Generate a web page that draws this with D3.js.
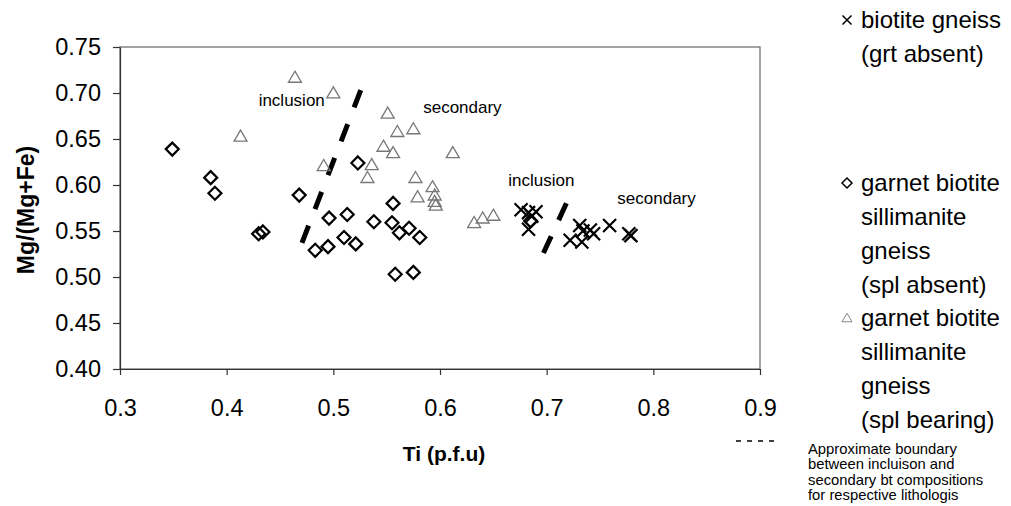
<!DOCTYPE html>
<html>
<head>
<meta charset="utf-8">
<script src="https://cdn.jsdelivr.net/npm/d3@7"></script>
<style>
  body { margin: 0; background: #fff; }
  svg { font-family: "Liberation Sans", Arial, sans-serif; }
</style>
</head>
<body>
<svg width="1011" height="506"></svg>
<script>
// data: Ti (p.f.u) vs Mg/(Mg+Fe)
var biotiteTi = [0.676, 0.683, 0.690, 0.683, 0.686, 0.722, 0.731, 0.734, 0.733, 0.741, 0.744, 0.759, 0.777, 0.779];
var biotiteMg = [0.573, 0.570, 0.571, 0.552, 0.566, 0.540, 0.556, 0.550, 0.538, 0.551, 0.547, 0.556, 0.547, 0.545];

var splAbsentTi = [0.349, 0.385, 0.389, 0.430, 0.434, 0.468, 0.483, 0.495, 0.496, 0.510, 0.513, 0.521, 0.523, 0.538, 0.555, 0.556, 0.558, 0.562, 0.571, 0.575, 0.581, 0.685];
var splAbsentMg = [0.639, 0.608, 0.591, 0.547, 0.549, 0.589, 0.529, 0.533, 0.564, 0.543, 0.568, 0.536, 0.624, 0.560, 0.559, 0.580, 0.503, 0.548, 0.553, 0.505, 0.543, 0.561];

var splBearingTi = [0.413, 0.464, 0.491, 0.500, 0.532, 0.536, 0.547, 0.551, 0.556, 0.560, 0.575, 0.577, 0.579, 0.593, 0.595, 0.595, 0.596, 0.612, 0.632, 0.640, 0.650];
var splBearingMg = [0.653, 0.717, 0.621, 0.700, 0.608, 0.622, 0.642, 0.678, 0.635, 0.658, 0.661, 0.608, 0.587, 0.598, 0.589, 0.582, 0.578, 0.635, 0.559, 0.564, 0.567];

// approximate inclusion / secondary boundaries
var boundaryA = [[0.4706, 0.537], [0.526, 0.704]];
var boundaryB = [[0.697, 0.526], [0.720, 0.584]];

var annoText = ['inclusion', 'secondary', 'inclusion', 'secondary'];
var annoTi = [0.461, 0.621, 0.695, 0.803];
var annoMg = [0.686, 0.678, 0.599, 0.579];

var xTicks = [0.3, 0.4, 0.5, 0.6, 0.7, 0.8, 0.9];
var yTicks = [0.40, 0.45, 0.50, 0.55, 0.60, 0.65, 0.70, 0.75];

var legendLines = [
    ['biotite gneiss', '(grt absent)'],
    ['garnet biotite', 'sillimanite', 'gneiss', '(spl absent)'],
    ['garnet biotite', 'sillimanite', 'gneiss', '(spl bearing)']
];
var noteLines = ['Approximate boundary', 'between  incluison and', 'secondary bt compositions', 'for respective lithologis'];

var svg = d3.select('svg');
var plot = {l: 120, r: 760, t: 47, b: 369};

var xScale = d3.scaleLinear().domain([0.3, 0.9]).range([plot.l, plot.r]);
var yScale = d3.scaleLinear().domain([0.40, 0.75]).range([plot.b, plot.t]);

function zip(a, b) { return a.map(function(v, i) { return [v, b[i]]; }); }

// marker shapes, excel style
function diamond(r) {
    var p = d3.path();
    p.moveTo(0, -r); p.lineTo(r, 0); p.lineTo(0, r); p.lineTo(-r, 0); p.closePath();
    return p.toString();
}
function triangle(r) {
    var p = d3.path();
    p.moveTo(0, -r * 0.95); p.lineTo(r, r * 0.75); p.lineTo(-r, r * 0.75); p.closePath();
    return p.toString();
}
function cross(r) {
    var p = d3.path();
    p.moveTo(-r, -r); p.lineTo(r, r); p.moveTo(r, -r); p.lineTo(-r, r);
    return p.toString();
}

// plot frame
svg.append('rect')
    .attr('x', plot.l).attr('y', plot.t)
    .attr('width', plot.r - plot.l).attr('height', plot.b - plot.t)
    .attr('fill', 'none').attr('stroke', '#666').attr('stroke-width', 1.2);

var xAxis = d3.axisBottom(xScale).tickValues(xTicks).tickSize(6).tickSizeOuter(0)
    .tickFormat(d3.format('.1f'));
var yAxis = d3.axisLeft(yScale).tickValues(yTicks).tickSize(7).tickSizeOuter(0)
    .tickFormat(d3.format('.2f'));

var gx = svg.append('g').attr('transform', 'translate(0,' + plot.b + ')').call(xAxis);
var gy = svg.append('g').attr('transform', 'translate(' + plot.l + ',0)').call(yAxis);
[gx, gy].forEach(function(g) {
    g.select('.domain').attr('stroke', '#333').attr('stroke-width', 1.2);
    g.selectAll('.tick line').attr('stroke', '#333').attr('stroke-width', 1.2);
    g.selectAll('.tick text').attr('fill', '#000').style('font-size', '23.5px')
        .style('font-family', '"Liberation Sans", Arial, sans-serif');
});
gx.selectAll('.tick text').attr('y', 47).attr('dy', 0);
gy.selectAll('.tick text').attr('x', -19);

// axis titles
svg.append('text')
    .attr('x', (plot.l + plot.r) / 2 + 4).attr('y', 461)
    .attr('text-anchor', 'middle')
    .style('font-size', '21px').style('font-weight', 'bold')
    .text('Ti (p.f.u)');
svg.append('text')
    .attr('transform', 'translate(34,' + 210 + ') rotate(-90)')
    .attr('text-anchor', 'middle')
    .style('font-size', '23px').style('font-weight', 'bold')
    .text('Mg/(Mg+Fe)');

// boundary lines
var line = d3.line()
    .x(function(d) { return xScale(d[0]); })
    .y(function(d) { return yScale(d[1]); });
[boundaryA, boundaryB].forEach(function(b) {
    svg.append('path')
        .attr('d', line(b))
        .attr('fill', 'none').attr('stroke', '#000')
        .attr('stroke-width', 5).attr('stroke-dasharray', '18.5,17.8');
});

// points
svg.selectAll('.tri')
    .data(zip(splBearingTi, splBearingMg))
    .enter().append('path')
    .attr('class', 'tri')
    .attr('transform', function(d) { return 'translate(' + [xScale(d[0]), yScale(d[1])] + ')'; })
    .attr('d', triangle(6.5))
    .attr('fill', 'none').attr('stroke', '#777').attr('stroke-width', 1.3);

svg.selectAll('.dia')
    .data(zip(splAbsentTi, splAbsentMg))
    .enter().append('path')
    .attr('class', 'dia')
    .attr('transform', function(d) { return 'translate(' + [xScale(d[0]), yScale(d[1])] + ')'; })
    .attr('d', diamond(6.5))
    .attr('fill', 'none').attr('stroke', '#000').attr('stroke-width', 2.2);

svg.selectAll('.crs')
    .data(zip(biotiteTi, biotiteMg))
    .enter().append('path')
    .attr('class', 'crs')
    .attr('transform', function(d) { return 'translate(' + [xScale(d[0]), yScale(d[1])] + ')'; })
    .attr('d', cross(6.5))
    .attr('fill', 'none').attr('stroke', '#000').attr('stroke-width', 2.2);

// annotations
svg.selectAll('.anno')
    .data(annoText)
    .enter().append('text')
    .attr('class', 'anno')
    .attr('x', function(d, i) { return xScale(annoTi[i]); })
    .attr('y', function(d, i) { return yScale(annoMg[i]); })
    .attr('text-anchor', 'middle')
    .style('font-size', '17px')
    .text(function(d) { return d; });

// legend
var legendG = svg.append('g');
var legendTop = [20, 183, 318];
var legendMarks = [cross(4.5), diamond(5), triangle(5)];
var legendStroke = ['#000', '#000', '#888'];
legendLines.forEach(function(lines, k) {
    legendG.append('path')
        .attr('transform', 'translate(' + [847, legendTop[k]] + ')')
        .attr('d', legendMarks[k])
        .attr('fill', 'none').attr('stroke', legendStroke[k]).attr('stroke-width', k == 2 ? 1 : 1.5);
    legendG.selectAll(null)
        .data(lines)
        .enter().append('text')
        .attr('x', 861)
        .attr('y', function(d, i) { return legendTop[k] + i * 34; })
        .attr('dy', '0.35em')
        .style('font-size', '24px')
        .text(function(d) { return d; });
});

legendG.append('line')
    .attr('x1', 736).attr('x2', 778).attr('y1', 441).attr('y2', 441)
    .attr('stroke', '#000').attr('stroke-width', 1.5).attr('stroke-dasharray', '5,6');
legendG.selectAll('.note')
    .data(noteLines)
    .enter().append('text')
    .attr('class', 'note')
    .attr('x', 808)
    .attr('y', function(d, i) { return 454 + i * 15.3; })
    .style('font-size', '14.8px')
    .text(function(d) { return d; });
</script>
</body>
</html>
